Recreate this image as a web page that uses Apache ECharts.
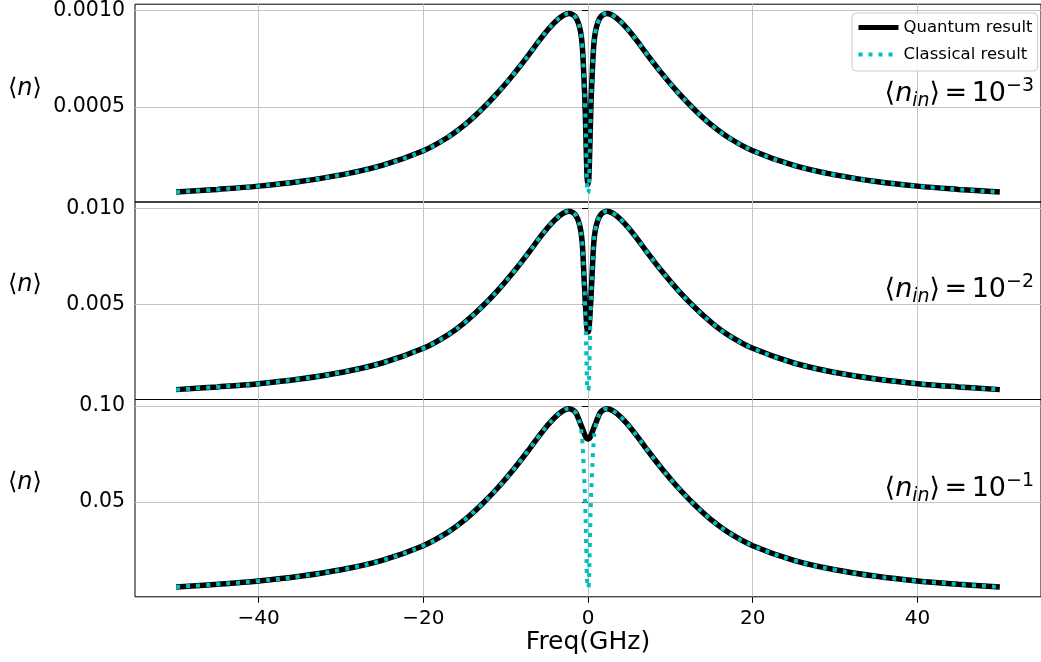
<!DOCTYPE html>
<html>
<head>
<meta charset="utf-8">
<script src="https://cdn.jsdelivr.net/npm/echarts/dist/echarts.min.js"></script>
<style>
  html, body { margin: 0; padding: 0; background: #fff; }
  #container { width: 1041px; height: 662px; }
</style>
</head>
<body>
<div id="container"></div>
<script>
// frequency samples (GHz), denser around the dip at 0
var freq = [-50, -45, -40, -35, -30, -25, -20, -17, -15, -13, -11, -9, -7, -6, -5, -4, -3, -2.3, -1.6, -1.2, -0.9, -0.7, -0.5, -0.35, -0.2, -0.1, 0,
            0.1, 0.2, 0.35, 0.5, 0.7, 0.9, 1.2, 1.6, 2.3, 3, 4, 5, 6, 7, 9, 11, 13, 15, 17, 20, 25, 30, 35, 40, 45, 50];

// <n_in> = 1e-3
var quantum1 = [0.0000600, 0.0000740, 0.0000910, 0.0001150, 0.0001490, 0.0001980, 0.0002740, 0.0003440, 0.0004070, 0.0004840, 0.0005720, 0.0006720, 0.0007820, 0.0008400, 0.0008940, 0.0009410, 0.0009750, 0.0009850, 0.0009700, 0.0009380, 0.0008900, 0.0008200, 0.0006600, 0.0005000, 0.0002600, 0.0001300, 0.0001000,
                0.0001300, 0.0002600, 0.0005000, 0.0006600, 0.0008200, 0.0008900, 0.0009380, 0.0009700, 0.0009850, 0.0009750, 0.0009410, 0.0008940, 0.0008400, 0.0007820, 0.0006720, 0.0005720, 0.0004840, 0.0004070, 0.0003440, 0.0002740, 0.0001980, 0.0001490, 0.0001150, 0.0000910, 0.0000740, 0.0000600];
var classical1 = [0.0000600, 0.0000740, 0.0000910, 0.0001150, 0.0001490, 0.0001980, 0.0002740, 0.0003440, 0.0004070, 0.0004840, 0.0005720, 0.0006720, 0.0007820, 0.0008400, 0.0008940, 0.0009410, 0.0009750, 0.0009850, 0.0009700, 0.0009380, 0.0008900, 0.0008200, 0.0006600, 0.0005000, 0.0002400, 0.0000750, 0.0000550,
                  0.0000750, 0.0002400, 0.0005000, 0.0006600, 0.0008200, 0.0008900, 0.0009380, 0.0009700, 0.0009850, 0.0009750, 0.0009410, 0.0008940, 0.0008400, 0.0007820, 0.0006720, 0.0005720, 0.0004840, 0.0004070, 0.0003440, 0.0002740, 0.0001980, 0.0001490, 0.0001150, 0.0000910, 0.0000740, 0.0000600];

// <n_in> = 1e-2
var quantum2 = [0.000600, 0.000740, 0.000910, 0.001150, 0.001490, 0.001980, 0.002740, 0.003440, 0.004070, 0.004840, 0.005720, 0.006720, 0.007820, 0.008400, 0.008940, 0.009410, 0.009750, 0.009850, 0.009700, 0.009380, 0.008900, 0.008200, 0.006600, 0.005300, 0.004200, 0.003700, 0.003600,
                0.003700, 0.004200, 0.005300, 0.006600, 0.008200, 0.008900, 0.009380, 0.009700, 0.009850, 0.009750, 0.009410, 0.008940, 0.008400, 0.007820, 0.006720, 0.005720, 0.004840, 0.004070, 0.003440, 0.002740, 0.001980, 0.001490, 0.001150, 0.000910, 0.000740, 0.000600];
var classical2 = [0.000600, 0.000740, 0.000910, 0.001150, 0.001490, 0.001980, 0.002740, 0.003440, 0.004070, 0.004840, 0.005720, 0.006720, 0.007820, 0.008400, 0.008940, 0.009410, 0.009750, 0.009850, 0.009700, 0.009380, 0.008900, 0.008200, 0.006600, 0.005000, 0.002400, 0.000750, 0.000550,
                  0.000750, 0.002400, 0.005000, 0.006600, 0.008200, 0.008900, 0.009380, 0.009700, 0.009850, 0.009750, 0.009410, 0.008940, 0.008400, 0.007820, 0.006720, 0.005720, 0.004840, 0.004070, 0.003440, 0.002740, 0.001980, 0.001490, 0.001150, 0.000910, 0.000740, 0.000600];

// <n_in> = 1e-1
var quantum3 = [0.0060, 0.0074, 0.0091, 0.0115, 0.0149, 0.0198, 0.0274, 0.0344, 0.0407, 0.0484, 0.0572, 0.0672, 0.0782, 0.0840, 0.0894, 0.0941, 0.0975, 0.0985, 0.0970, 0.0938, 0.0905, 0.0885, 0.0862, 0.0845, 0.0833, 0.0829, 0.0828,
                0.0829, 0.0833, 0.0845, 0.0862, 0.0885, 0.0905, 0.0938, 0.0970, 0.0985, 0.0975, 0.0941, 0.0894, 0.0840, 0.0782, 0.0672, 0.0572, 0.0484, 0.0407, 0.0344, 0.0274, 0.0198, 0.0149, 0.0115, 0.0091, 0.0074, 0.0060];
var classical3 = [0.0060, 0.0074, 0.0091, 0.0115, 0.0149, 0.0198, 0.0274, 0.0344, 0.0407, 0.0484, 0.0572, 0.0672, 0.0782, 0.0840, 0.0894, 0.0941, 0.0975, 0.0985, 0.0970, 0.0938, 0.0890, 0.0820, 0.0660, 0.0500, 0.0240, 0.0075, 0.0055,
                  0.0075, 0.0240, 0.0500, 0.0660, 0.0820, 0.0890, 0.0938, 0.0970, 0.0985, 0.0975, 0.0941, 0.0894, 0.0840, 0.0782, 0.0672, 0.0572, 0.0484, 0.0407, 0.0344, 0.0274, 0.0198, 0.0149, 0.0115, 0.0091, 0.0074, 0.0060];

var xTicks = [-40, -20, 0, 20, 40];
var yTicks = [[0.0005, 0.001], [0.005, 0.01], [0.05, 0.1]];
var yRange = [[0.0000088, 0.0010326], [0.000088, 0.010326], [0.00088, 0.10326]];
var yDigits = [4, 3, 2];
var inLabels = ['\u22123', '\u22122', '\u22121'];

var FONT = 'DejaVu Sans';
var dom = document.getElementById('container');
var myChart = echarts.init(dom, null, {renderer: 'canvas'});

function pairs(ys) {
    return freq.map(function (f, i) { return [f, ys[i]]; });
}

var gridPos = [[4, 198], [202, 197.5], [399.5, 197.3]];
var grids = [], xAxes = [], yAxes = [], series = [], graphics = [];
var quantum = [quantum1, quantum2, quantum3];
var classical = [classical1, classical2, classical3];
var labelY = [91, 287, 485];
var annY = [97, 293, 492];

for (var k = 0; k < 3; k++) {
    var last = k === 2;
    grids.push({
        left: 135, right: -6, top: gridPos[k][0], height: gridPos[k][1],
        show: true, borderColor: '#000', borderWidth: 1, backgroundColor: 'transparent'
    });
    xAxes.push({
        type: 'value', gridIndex: k, min: -55, max: 55,
        axisLine: {show: false},
        axisTick: {show: last, customValues: xTicks, length: 6, lineStyle: {color: '#000'}},
        axisLabel: {
            show: last, customValues: xTicks, margin: 12,
            color: '#000', fontFamily: FONT, fontSize: 20,
            formatter: function (v) { return v < 0 ? '\u2212' + Math.abs(v) : String(v); }
        },
        splitLine: {show: true, lineStyle: {color: '#c4c4c4', width: 1}},
        name: last ? 'Freq(GHz)' : '',
        nameLocation: 'middle', nameGap: 32,
        nameTextStyle: {color: '#000', fontFamily: FONT, fontSize: 25}
    });
    (function (d) {
        yAxes.push({
            type: 'value', gridIndex: k, min: yRange[k][0], max: yRange[k][1],
            axisLine: {show: false},
            axisTick: {show: true, customValues: yTicks[k], length: 6, lineStyle: {color: '#000'}},
            axisLabel: {
                customValues: yTicks[k], margin: 10,
                color: '#000', fontFamily: FONT, fontSize: 20.5,
                formatter: function (v) { return v.toFixed(d); }
            },
            splitLine: {show: true, lineStyle: {color: '#c4c4c4', width: 1}}
        });
    })(yDigits[k]);

    series.push({
        name: 'Quantum result', type: 'line', xAxisIndex: k, yAxisIndex: k,
        data: pairs(quantum[k]), showSymbol: false, symbol: 'none',
        smooth: 0.4,
        lineStyle: {color: '#000', width: 5.5, cap: 'butt'},
        itemStyle: {color: '#000'}, z: 3
    });
    series.push({
        name: 'Classical result', type: 'line', xAxisIndex: k, yAxisIndex: k,
        data: pairs(classical[k]), showSymbol: false, symbol: 'none',
        smooth: 0.4,
        lineStyle: {color: '#00bfbf', width: 4, type: [4, 6], cap: 'butt'},
        itemStyle: {color: '#00bfbf'}, z: 4
    });

    graphics.push({
        type: 'text', left: 8, top: labelY[k] - 14,
        style: {
            text: '{a|\u27e8}{i|n}{a|\u27e9}',
            rich: {
                a: {fontFamily: FONT, fontSize: 24, fill: '#000'},
                i: {fontFamily: FONT, fontSize: 24, fontStyle: 'italic', fill: '#000'}
            }
        }
    });
    graphics.push({
        type: 'text', right: 7, top: annY[k] - 20,
        style: {
            text: '{a|\u27e8}{i|n}{sub|in}{a|\u27e9}{sp| }{a|=}{sp| }{a|10}{sup|' + inLabels[k] + '}',
            rich: {
                a: {fontFamily: FONT, fontSize: 27, lineHeight: 34, fill: '#000'},
                sp: {fontFamily: FONT, fontSize: 14, lineHeight: 34, fill: '#000'},
                i: {fontFamily: FONT, fontSize: 27, lineHeight: 34, fontStyle: 'italic', fill: '#000'},
                sub: {fontFamily: FONT, fontSize: 19, lineHeight: 19, fontStyle: 'italic', verticalAlign: 'bottom', fill: '#000'},
                sup: {fontFamily: FONT, fontSize: 19, lineHeight: 19, verticalAlign: 'top', fill: '#000'}
            }
        }
    });
}

var option = {
    animation: false,
    backgroundColor: '#fff',
    legend: {
        data: [
            {name: 'Quantum result', lineStyle: {color: '#000', width: 5, type: 'solid'}},
            {name: 'Classical result', lineStyle: {color: '#00bfbf', width: 4, type: [4, 6]}}
        ],
        orient: 'vertical', left: 852, top: 13,
        itemWidth: 40, itemHeight: 14, itemGap: 10,
        itemStyle: {opacity: 0},
        padding: [6, 5, 8, 4],
        backgroundColor: 'rgba(255,255,255,0.85)',
        borderColor: '#cccccc', borderWidth: 1, borderRadius: 4,
        textStyle: {color: '#000', fontFamily: FONT, fontSize: 16.5}
    },
    grid: grids,
    xAxis: xAxes,
    yAxis: yAxes,
    series: series,
    graphic: graphics
};

myChart.setOption(option, true);
</script>
</body>
</html>
